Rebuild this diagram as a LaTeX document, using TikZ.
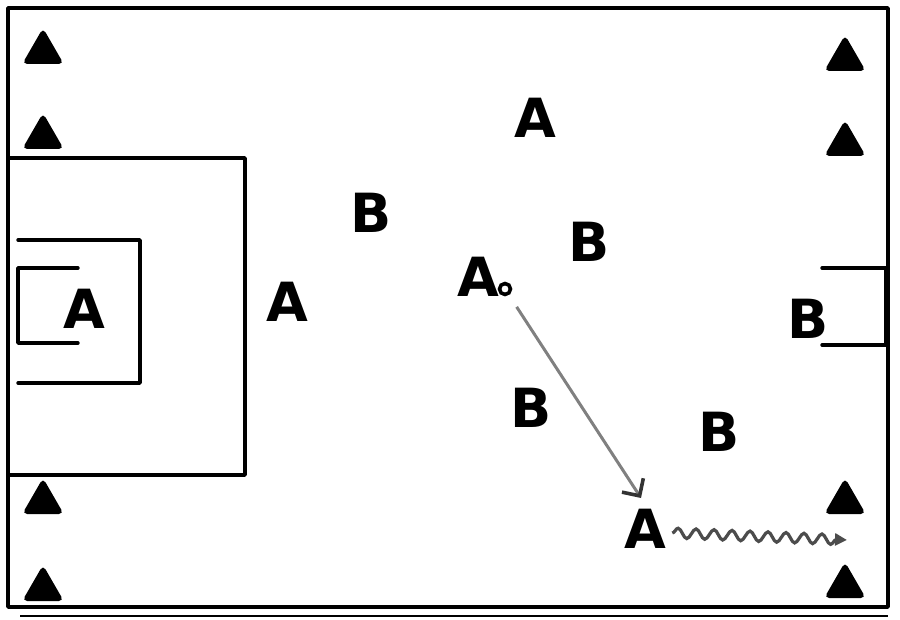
\documentclass[tikz,border=0pt]{standalone}
\usepackage{fontspec}
\setsansfont{DejaVu Sans}
\usetikzlibrary{shapes.geometric,arrows.meta,decorations.pathmorphing}
\tikzset{
  player/.style    = {font=\sffamily\bfseries\fontsize{27}{30}\selectfont, inner sep=0pt},
  cone/.style      = {regular polygon, regular polygon sides=3, fill=black,
                      minimum size=24pt, inner sep=0pt, rounded corners=2.5pt},
  fieldline/.style = {draw=black, line width=1.7pt, line join=round, line cap=round},
  ball/.style      = {circle, draw=black, line width=1.8pt, minimum size=5.5pt, inner sep=0pt},
  pass/.style      = {draw=gray, line width=1.5pt, shorten <=7pt,
                      -{Straight Barb[angle=90:9pt, line width=1.8pt, color=black!80]}},
  dribble/.style   = {draw=black!70, line width=1.6pt, decorate,
                      decoration={snake, amplitude=2.5pt, segment length=9pt, post length=5pt},
                      -{Triangle[length=6pt,width=6pt]}}
}

\begin{document}
\begin{tikzpicture}[x=0.5pt, y=-0.5pt]
  \useasboundingbox (0,0) rectangle (900,620);

  % pitch
  \draw[fieldline] (8,8) rectangle (888,607);
  \draw[fieldline] (8,158) -- (245,158) -- (245,475) -- (8,475);
  \draw[fieldline] (18,240) -- (140,240) -- (140,383) -- (18,383);
  \draw[fieldline] (78,268) -- (18,268) -- (18,343) -- (78,343);
  \draw[fieldline] (822,268) -- (886,268) -- (886,345) -- (822,345);
  \draw[line width=1pt] (20,616) -- (888,616);

  % cones
  \foreach \x/\y/\n in {43/52/1, 43/137/2, 43/502/3, 43/589/4,
                        845/59/5, 845/144/6, 845/502/7, 845/586/8}
    \node[cone] (cone\n) at (\x,\y) {};

  % players
  \node[player] (atop)   at (535,118) {A};
  \node[player] (bleft)  at (371,213) {B};
  \node[player] (bmid)   at (589,242) {B};
  \node[player] (abox)   at (84,309)  {A};
  \node[player] (aleft)  at (287,302) {A};
  \node[player] (aball)  at (478,277) {A};
  \node[player] (bright) at (808,319) {B};
  \node[player] (blow)   at (531,408) {B};
  \node[player] (blowr)  at (719,432) {B};
  \node[player] (abot)   at (645,529) {A};

  \node[ball] (ball) at (505,289) {};

  % runs
  \coordinate (passend) at (641,498);
  \coordinate (dribend) at (847,540);
  \draw[pass] (ball) -- (passend);
  \draw[dribble] ([xshift=3pt,yshift=-2pt]abot.east) -- (dribend);
\end{tikzpicture}
\end{document}
